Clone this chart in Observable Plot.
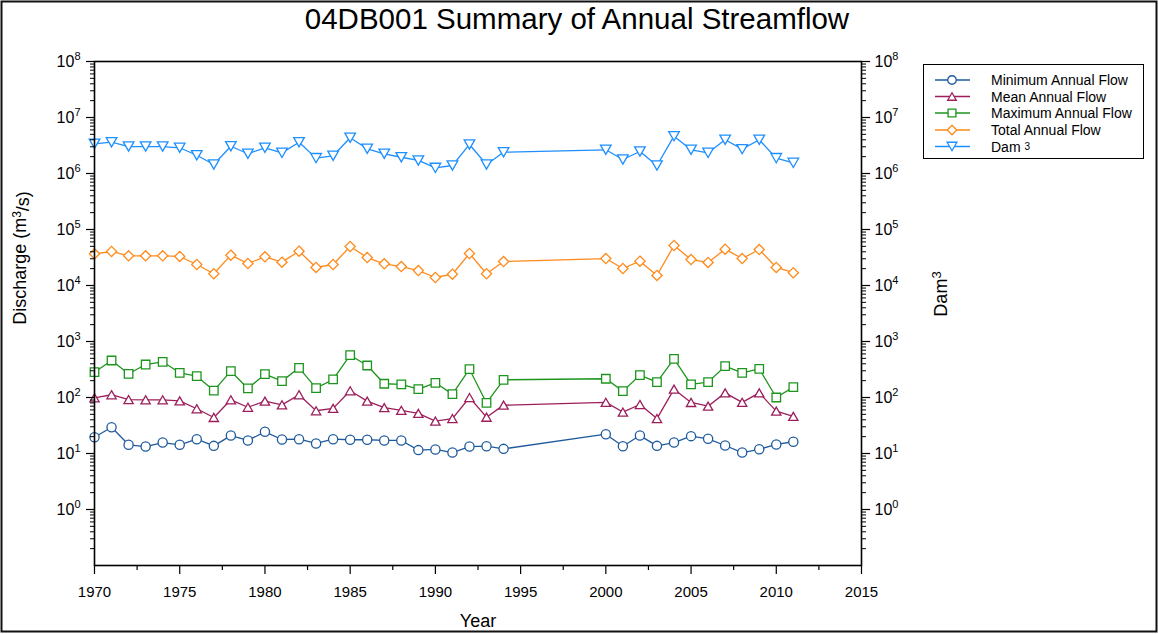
<!DOCTYPE html>
<html><head><meta charset="utf-8">
<script src="https://cdn.jsdelivr.net/npm/d3@7"></script>
<script src="https://cdn.jsdelivr.net/npm/@observablehq/plot@0.6"></script>
<style>
body{margin:0;background:#fff;}
#wrap{position:relative;width:1158px;height:634px;font-family:"Liberation Sans",Arial,sans-serif;overflow:hidden;}
#wrap svg{position:absolute;left:0;top:0;}
</style></head><body><div id="wrap"></div>
<script>
// ---- data ----
const years = [1970,1971,1972,1973,1974,1975,1976,1977,1978,1979,1980,1981,1982,1983,1984,1985,1986,1987,1988,1989,1990,1991,1992,1993,1994,
               2000,2001,2002,2003,2004,2005,2006,2007,2008,2009,2010,2011];
const minFlow = [19.5,29.5,14.3,13.3,15.7,14.3,18.0,13.7,20.9,17.1,24.4,17.8,18.0,15.1,18.0,17.6,17.6,17.1,17.1,11.5,11.8,10.4,13.3,13.5,12.1,
                 22.1,13.5,20.9,13.7,15.7,20.4,18.3,13.9,10.4,11.9,14.5,16.2];
const meanFlow = [98.8,112,92,91,91,87,63,44,91,67,86,74,112,58,64,132,86,66,59,52,38,42,100,44.5,73,
                  82,55,75,42,141,81.5,70,121,82,121,57,46];
const maxFlow = [283,458,265,388,434,276,240,133,295,145,261,196,339,147,210,569,373,176,171,141,183,115,320,80,207,
                 216,130,250,188,491,171,188,362,276,325,100,153];
const totalFlow = [36800,40500,33900,33900,33900,33000,23700,16200,34800,24700,32500,26100,41000,21000,23700,49700,31600,24400,21800,18500,13900,15900,37300,16200,26800,
                   30300,20100,27200,15100,51800,29100,25800,44500,30300,43900,21000,16900];
const dam3 = [3390000,3620000,3030000,3030000,3030000,2880000,2120000,1450000,3070000,2250000,2880000,2340000,3620000,1880000,2070000,4340000,2760000,2250000,1950000,1710000,1260000,1390000,3300000,1450000,2400000,
              2650000,1780000,2470000,1390000,4640000,2650000,2340000,4000000,2720000,4000000,1880000,1550000];

const seriesNames = ["Minimum Annual Flow","Mean Annual Flow","Maximum Annual Flow","Total Annual Flow","Dam"];
const seriesColors = ["#1f5b9c","#9c1f5c","#1d951d","#ff8a1a","#1e8fff"];

const xTicks = [1970,1975,1980,1985,1990,1995,2000,2005,2010,2015];
const xMinor = [1972.5,1977.5,1982.5,1987.5,1992.5,1997.5,2002.5,2007.5,2012.5];
const yMajor = [1,10,100,1e3,1e4,1e5,1e6,1e7,1e8];

// ---- helpers ----
const yMinor = [];
for (let k = -1; k < 8; k++) for (let m = 2; m <= 9; m++) yMinor.push(m * Math.pow(10, k));

const triUp = {draw(ctx, size){ const w = Math.sqrt(size)*1.25, h = w*0.87; ctx.moveTo(0,-h/2); ctx.lineTo(w/2,h/2); ctx.lineTo(-w/2,h/2); ctx.closePath(); }};
const triDown = {draw(ctx, size){ const w = Math.sqrt(size)*1.25, h = w*0.87; ctx.moveTo(0,h/2); ctx.lineTo(w/2,-h/2); ctx.lineTo(-w/2,-h/2); ctx.closePath(); }};
const symbols = [d3.symbolCircle, triUp, d3.symbolSquare, d3.symbolDiamond2, triDown];
const radii = [4.6, 4.2, 4.8, 4.6, 4.8];
const values = [minFlow, meanFlow, maxFlow, totalFlow, dam3];

const idx = years.map((_, i) => i);
const marks = [];
values.forEach((vals, s) => {
  marks.push(Plot.line(idx, {x: i => years[i], y: i => vals[i], stroke: seriesColors[s], strokeWidth: 1.3}));
  marks.push(Plot.dot(idx, {x: i => years[i], y: i => vals[i], stroke: seriesColors[s], fill: "white", strokeWidth: 1.3, r: radii[s], symbol: symbols[s]}));
});

const expFmt = d => String(Math.round(Math.log10(d)));
const chart = Plot.plot({
  width: 1158, height: 634,
  marginLeft: 94, marginRight: 297, marginTop: 61, marginBottom: 69,
  style: {fontFamily: '"Liberation Sans", Arial, sans-serif', fontSize: "15px", color: "black", background: "transparent"},
  x: {domain: [1970, 2015], label: null},
  y: {type: "log", domain: [0.1, 1e8], label: null},
  marks: [
    ...marks,
    Plot.frame({stroke: "black", strokeWidth: 1.6}),
    Plot.axisX(xTicks, {tickSize: 9, tickPadding: 12, fontSize: 15, tickFormat: d => String(d), label: null, strokeWidth: 1.2}),
    Plot.axisX(xMinor, {tickSize: 5, tickFormat: () => "", label: null, strokeWidth: 1.2}),
    Plot.axisY(yMajor, {anchor: "left", tickSize: 8, tickPadding: 6, fontSize: 16, tickFormat: expFmt, label: null, strokeWidth: 1.2}),
    Plot.axisY(yMinor, {anchor: "left", tickSize: 4, tickFormat: () => "", label: null}),
    Plot.axisY(yMajor, {anchor: "right", tickSize: 8, tickPadding: 5, fontSize: 16, tickFormat: expFmt, label: null, strokeWidth: 1.2}),
    Plot.axisY(yMinor, {anchor: "right", tickSize: 4, tickFormat: () => "", label: null})
  ]
});
document.getElementById("wrap").appendChild(chart);

// superscript exponents on y tick labels
const NS = "http://www.w3.org/2000/svg";
chart.querySelectorAll('g[aria-label="y-axis tick label"] text').forEach(t => {
  const e = t.textContent;
  if (!e) return;
  t.textContent = "10";
  const ts = document.createElementNS(NS, "tspan");
  ts.setAttribute("dy", "-0.6em");
  ts.setAttribute("font-size", "11px");
  ts.textContent = e;
  t.appendChild(ts);
});

// ---- overlay: title, axis labels, legend, border ----
const ov = d3.select("#wrap").append("svg").attr("width", 1158).attr("height", 634)
  .style("font-family", '"Liberation Sans", Arial, sans-serif');

ov.append("rect").attr("x", 1.5).attr("y", 1.5).attr("width", 1155).attr("height", 630)
  .attr("fill", "none").attr("stroke", "#111").attr("stroke-width", 2);

ov.append("text").attr("x", 577).attr("y", 29).attr("text-anchor", "middle")
  .attr("font-size", 29.5).text("04DB001 Summary of Annual Streamflow");

ov.append("text").attr("x", 478).attr("y", 627).attr("text-anchor", "middle")
  .attr("font-size", 18).text("Year");

const yl = ov.append("text").attr("transform", "translate(26,258) rotate(-90)").attr("text-anchor", "middle").attr("font-size", 18);
yl.append("tspan").text("Discharge (m");
yl.append("tspan").attr("dy", "-0.45em").attr("font-size", 12).text("3");
yl.append("tspan").attr("dy", "0.45em").text("/s)");

const yr = ov.append("text").attr("transform", "translate(947,294) rotate(-90)").attr("text-anchor", "middle").attr("font-size", 18);
yr.append("tspan").text("Dam");
yr.append("tspan").attr("dy", "-0.45em").attr("font-size", 13).text("3");

// legend
ov.append("rect").attr("x", 923.5).attr("y", 64.5).attr("width", 220).attr("height", 94)
  .attr("fill", "white").attr("stroke", "black").attr("stroke-width", 1);
const rowY = [80, 96.5, 113, 130, 146.5];
seriesNames.forEach((name, s) => {
  const y = rowY[s];
  ov.append("line").attr("x1", 935).attr("x2", 970).attr("y1", y).attr("y2", y)
    .attr("stroke", seriesColors[s]).attr("stroke-width", 1.3);
  ov.append("path").attr("transform", `translate(952,${y})`)
    .attr("d", d3.symbol(symbols[s], Math.PI * radii[s] * radii[s] * 0.85)())
    .attr("fill", "white").attr("stroke", seriesColors[s]).attr("stroke-width", 1.3);
  const t = ov.append("text").attr("x", 991).attr("y", y + 5).attr("font-size", 14).text(name);
  if (s === 4) t.append("tspan").attr("dx", 4).attr("dy", -2).attr("font-size", 10).text("3");
});
</script>
</body></html>
